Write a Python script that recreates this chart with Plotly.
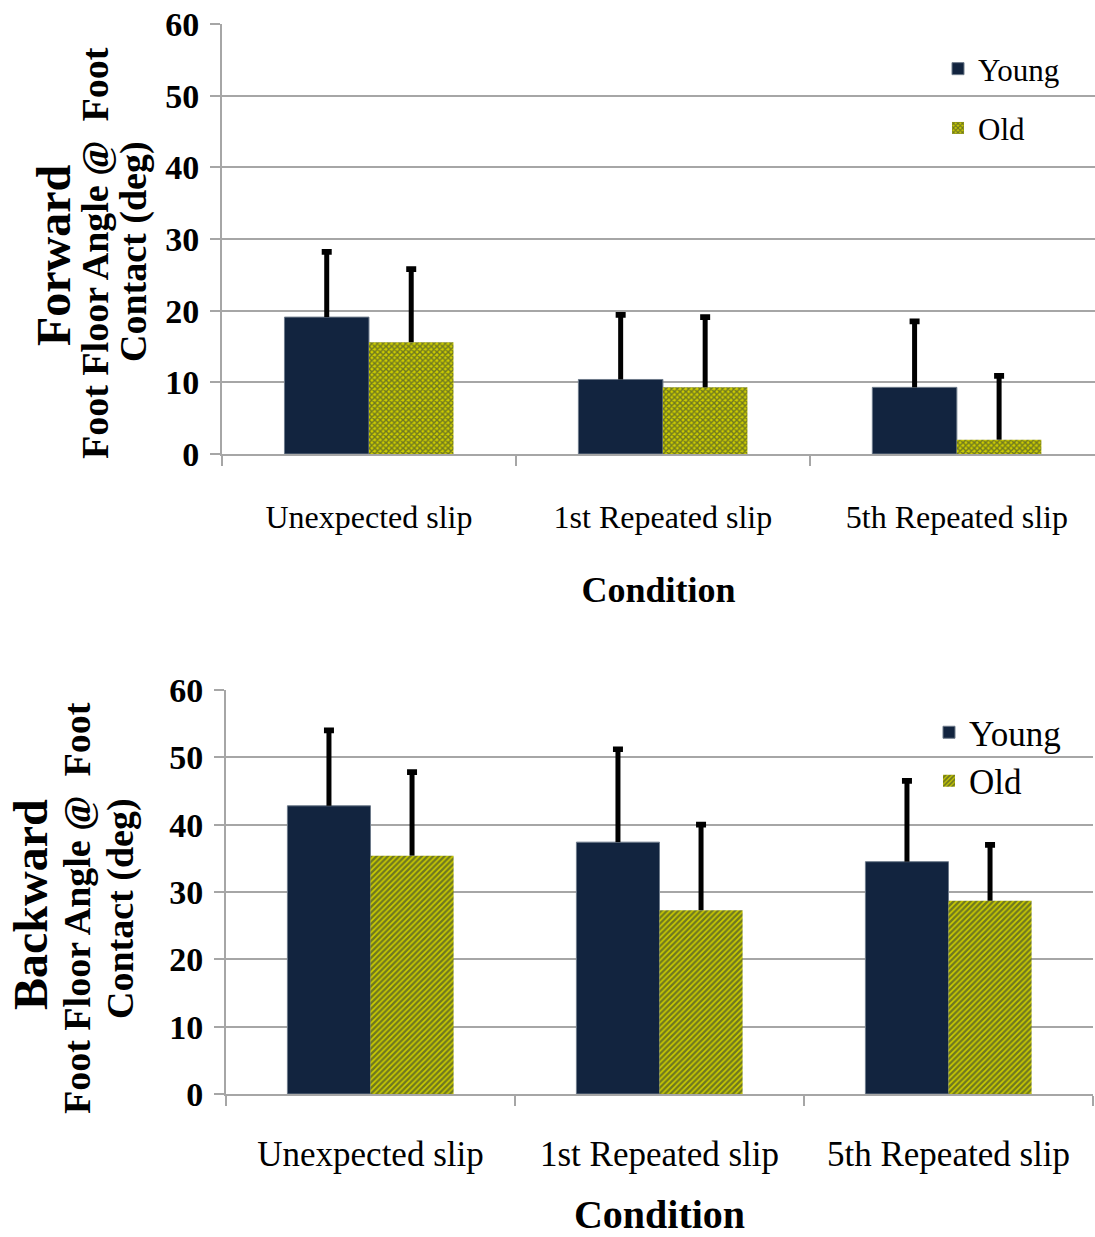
import plotly.graph_objects as go

# ---------------- data ----------------
conditions = ["Unexpected slip", "1st Repeated slip", "5th Repeated slip"]
series_names = ["Young", "Old"]

fwd_young = [19.1, 10.4, 9.3]
fwd_young_err = [9.1, 9.0, 9.2]
fwd_old = [15.6, 9.3, 2.0]
fwd_old_err = [10.2, 9.8, 8.9]

bwd_young = [42.8, 37.4, 34.5]
bwd_young_err = [11.2, 13.8, 12.0]
bwd_old = [35.4, 27.3, 28.7]
bwd_old_err = [12.4, 12.7, 8.3]

y_ticks = [0, 10, 20, 30, 40, 50, 60]

# ---------------- styles ----------------
NAVY = "#12243f"
YELLOW = "#cccc00"
GRID = "#a6a6a6"
SERIF = "Liberation Serif, Times New Roman, serif"
W, H = 1095, 1237

fig = go.Figure()


def add_group(vals, errs, name, xa, ya, legend, is_old, pattern_shape, show):
    og = name + xa
    if is_old:
        marker = dict(color=YELLOW,
                      pattern=dict(shape=pattern_shape, fgcolor=NAVY, bgcolor=YELLOW,
                                   size=4, solidity=0.6, fillmode="overlay"),
                      line=dict(width=0))
    else:
        marker = dict(color=NAVY, line=dict(width=1, color="#6d7a8a"))
    fig.add_trace(go.Bar(
        x=conditions, y=vals, name=name, marker=marker,
        xaxis=xa, yaxis=ya, offsetgroup=og, legend=legend,
        legendgroup=name + legend, showlegend=show,
        error_y=dict(type="data", symmetric=False, array=errs,
                     arrayminus=[0] * len(errs), width=0, thickness=5, color="black"),
    ))
    # caps of the error bars (zero-height bars at the error top)
    fig.add_trace(go.Bar(
        x=conditions, y=[0] * len(vals),
        base=[v + e for v, e in zip(vals, errs)],
        marker=dict(color="rgba(0,0,0,0)", line=dict(width=0)),
        xaxis=xa, yaxis=ya, offsetgroup=og, showlegend=False, hoverinfo="skip",
        error_y=dict(type="data", symmetric=True, array=[0.05] * len(vals),
                     width=5, thickness=5, color="black"),
    ))


add_group(fwd_young, fwd_young_err, "Young", "x", "y", "legend", False, "", True)
add_group(fwd_old, fwd_old_err, "Old", "x", "y", "legend", True, "x", True)
add_group(bwd_young, bwd_young_err, "Young", "x2", "y2", "legend2", False, "", True)
add_group(bwd_old, bwd_old_err, "Old", "x2", "y2", "legend2", True, "/", True)


def px_x(p):
    return p / W


def px_y(p):
    return 1 - p / H


axis_common_x = dict(
    type="category", showgrid=False, showline=True, linecolor=GRID, linewidth=2,
    ticks="outside", tickson="boundaries", ticklen=10, tickwidth=2, tickcolor=GRID,
    fixedrange=True, automargin=False,
)
axis_common_y = dict(
    range=[0, 60], tickvals=y_ticks, showgrid=True, gridcolor=GRID, gridwidth=2,
    showline=True, linecolor=GRID, linewidth=2, ticks="outside", ticklen=10,
    tickwidth=2, tickcolor=GRID, zeroline=False, automargin=False,
    tickfont=dict(family=SERIF, size=34, color="black", weight="bold"),
    ticklabelstandoff=4,
)

fig.update_layout(
    width=W, height=H,
    margin=dict(l=0, r=0, t=0, b=0, autoexpand=False),
    paper_bgcolor="white", plot_bgcolor="white",
    barmode="group", bargap=0.425, bargroupgap=0,
    font=dict(family=SERIF, color="black"),
    xaxis=dict(axis_common_x, domain=[px_x(222), 1.0], range=[-0.5, 2.47], anchor="y",
               tickfont=dict(family=SERIF, size=32, color="black"),
               ticklabelstandoff=34,
               title=dict(text="<b>Condition</b>", standoff=42,
                          font=dict(family=SERIF, size=36, color="black"))),
    yaxis=dict(axis_common_y, domain=[px_y(454), px_y(24)], anchor="x"),
    xaxis2=dict(axis_common_x, domain=[px_x(226), px_x(1093)], range=[-0.5, 2.5], anchor="y2",
                tickfont=dict(family=SERIF, size=35, color="black"),
                ticklabelstandoff=28,
                title=dict(text="<b>Condition</b>", standoff=30,
                           font=dict(family=SERIF, size=40, color="black"))),
    yaxis2=dict(axis_common_y, domain=[px_y(1094), px_y(690)], anchor="x2"),
    legend=dict(x=px_x(938), y=px_y(42), xanchor="left", yanchor="top",
                font=dict(family=SERIF, size=31, color="black"),
                tracegroupgap=16, bgcolor="rgba(0,0,0,0)"),
    legend2=dict(x=px_x(929), y=px_y(703), xanchor="left", yanchor="top",
                 font=dict(family=SERIF, size=35, color="black"),
                 tracegroupgap=0, bgcolor="rgba(0,0,0,0)"),
    showlegend=True,
)

# y-axis titles (three rotated lines per panel)
titles = [
    ("<b>Forward</b>", 53, 255, 48),
    ("<b>Foot Floor Angle @  Foot</b>", 95, 253, 38),
    ("<b>Contact (deg)</b>", 133, 252, 38),
    ("<b>Backward</b>", 30, 905, 48),
    ("<b>Foot Floor Angle @  Foot</b>", 77, 908, 38),
    ("<b>Contact (deg)</b>", 120, 909, 38),
]
for txt, xp, yp, sz in titles:
    fig.add_annotation(text=txt, x=px_x(xp), y=px_y(yp), xref="paper", yref="paper",
                       xanchor="center", yanchor="middle", textangle=-90, showarrow=False,
                       font=dict(family=SERIF, size=sz, color="black"))

fig.write_html("out.html")
